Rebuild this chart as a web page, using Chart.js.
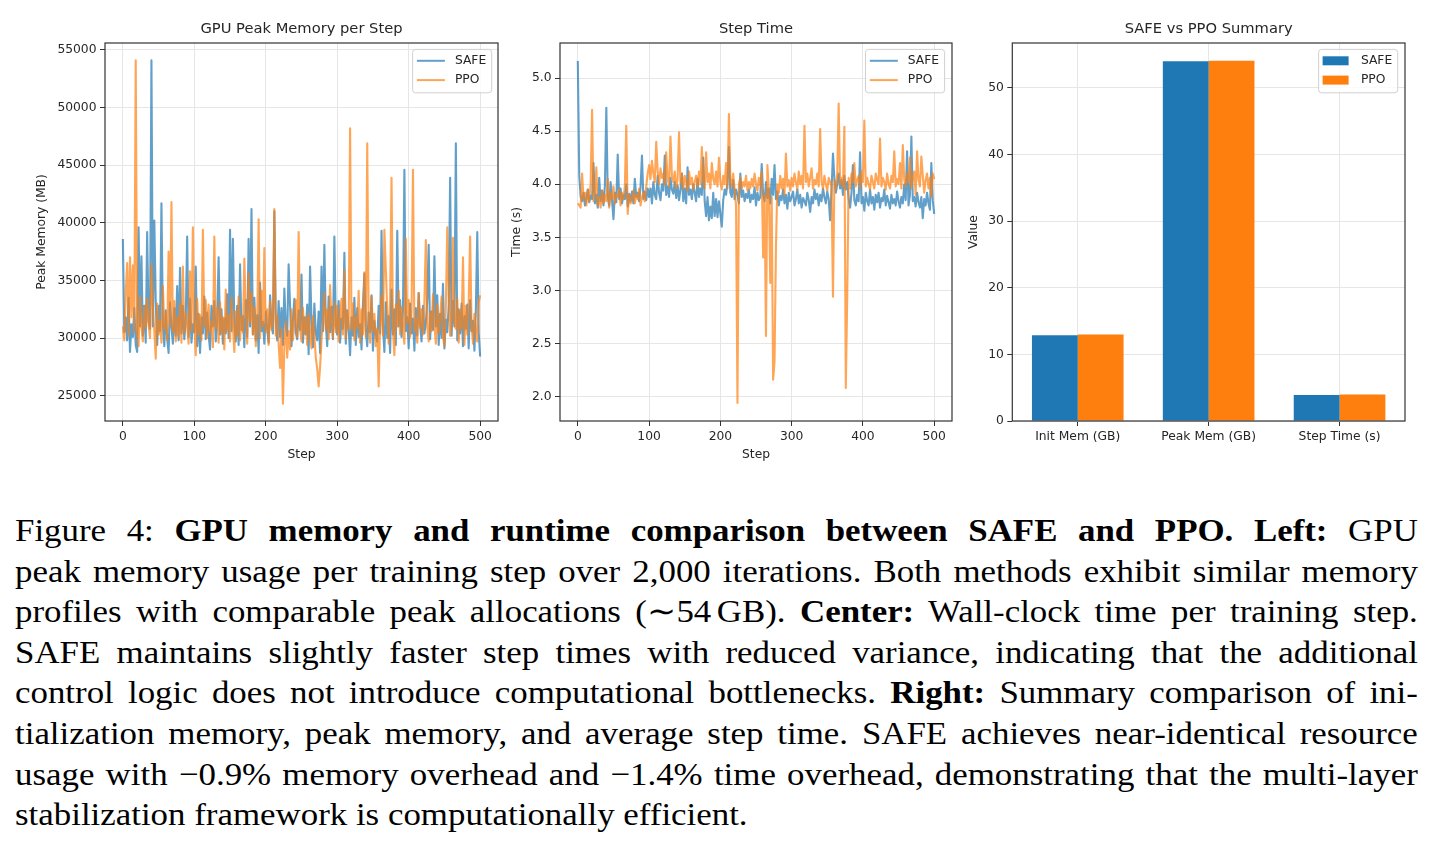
<!DOCTYPE html>
<html>
<head>
<meta charset="utf-8">
<title>SAFE vs PPO resources</title>
<script src="https://cdn.jsdelivr.net/npm/chart.js@4.4.1/dist/chart.umd.min.js"></script>
<style>
  html, body { margin: 0; padding: 0; background: #fff; }
  body { width: 1435px; height: 847px; position: relative; overflow: hidden; }
  canvas { position: absolute; top: 0; }
  #memChart { left: 0; }
  #timeChart { left: 503px; }
  #summaryChart { left: 963px; }
  .caption {
    position: absolute; left: 15px; top: 510px; width: 1287px;
    transform: scaleX(1.09); transform-origin: 0 0;
    font-family: "Liberation Serif", serif; font-size: 32px; line-height: 40.6px; color: #000;
  }
  .caption div { text-align: justify; text-align-last: justify; }
  .caption div.last { text-align-last: left; }
  .caption .ts { display: inline-block; width: 5px; }
</style>
</head>
<body>
<canvas id="memChart" width="503" height="470"></canvas>
<canvas id="timeChart" width="460" height="470"></canvas>
<canvas id="summaryChart" width="472" height="470"></canvas>

<div class="caption">
  <div>Figure 4: <b>GPU memory and runtime comparison between SAFE and PPO. Left:</b> GPU</div>
  <div>peak memory usage per training step over 2,000 iterations. Both methods exhibit similar memory</div>
  <div>profiles with comparable peak allocations (∼54<span class="ts"></span>GB). <b>Center:</b> Wall-clock time per training step.</div>
  <div>SAFE maintains slightly faster step times with reduced variance, indicating that the additional</div>
  <div>control logic does not introduce computational bottlenecks. <b>Right:</b> Summary comparison of ini-</div>
  <div>tialization memory, peak memory, and average step time. SAFE achieves near-identical resource</div>
  <div>usage with −0.9% memory overhead and −1.4% time overhead, demonstrating that the multi-layer</div>
  <div class="last">stabilization framework is computationally efficient.</div>
</div>

<script>
// Series, one value every 2 steps (0..500)
const safeMem = [
  38600, 30500, 31800, 29800, 33500, 28800, 31200, 30100, 32600, 29400,
  28800, 39600, 31000, 37100, 30200, 32800, 29600, 39200, 31400, 30800,
  54100, 31000, 40200, 33200, 29400, 32800, 30600, 41700, 31200, 29300,
  32400, 30000, 28700, 33100, 31000, 29500, 32600, 30200, 34500, 29800,
  36100, 30400, 32800, 29900, 31600, 38800, 30100, 33400, 29600, 31200,
  30500, 36200, 29300, 32100, 28700, 31800, 30400, 33600, 29900, 32200,
  30300, 29000, 32800, 31000, 33200, 29700, 31400, 37000, 30300, 32500,
  29500, 31700, 30400, 33800, 30000, 39400, 30600, 38600, 31300, 29700,
  32800, 29400, 36400, 30700, 31900, 29200, 33300, 30100, 38600, 31000,
  41200, 30300, 33500, 29800, 32000, 28700, 34800, 30600, 31400, 29500,
  32300, 30800, 29600, 33700, 31200, 30400, 41000, 31600, 29800, 33200,
  30100, 32600, 29400, 34300, 31000, 30200, 36400, 32800, 29300, 31600,
  33400, 30500, 29900, 32400, 30700, 35500, 29600, 31800, 30300, 32900,
  28600, 36200, 31400, 29200, 33000, 30400, 29800, 32300, 28700, 36200,
  30600, 38100, 31200, 29300, 33600, 30500, 32700, 29900, 38800, 31100,
  30300, 33200, 29600, 31700, 30800, 37400, 29500, 32400, 30900, 28500,
  31800, 30200, 33500, 29400, 32600, 30100, 31200, 29000, 32900, 35600,
  30700, 29300, 32200, 30500, 33700, 28900, 31500, 30300, 29700, 32800,
  30400, 39300, 31100, 28800, 33100, 30000, 31900, 28700, 34200, 30300,
  32500, 29400, 39300, 31000, 33300, 30100, 32400, 44600, 30600, 31800,
  29100, 33000, 30400, 31700, 28900, 32600, 30200, 33900, 31200, 29700,
  32800, 30400, 31300, 33300, 38100, 29900, 32300, 30700, 37100, 31000,
  33700, 29400, 32100, 30000, 34700, 29100, 31600, 30500, 32700, 43900,
  30200, 33200, 31000, 46900, 29800, 32500, 30400, 33000, 29300, 31900,
  30800, 32900, 29100, 33300, 30600, 31500, 28900, 32400, 39200, 30500,
  28400
];
const ppoMem = [
  31000, 29800, 34000, 36500, 30200, 37000, 31800, 36300, 30500, 54100,
  30400, 29300, 33600, 31000, 29700, 32800, 30900, 33400, 31200, 30000,
  36400, 32800, 30600, 28200, 33000, 30300, 31500, 29600, 34500, 30800,
  32100, 29800, 37500, 31000, 41800, 30500, 33200, 29700, 31800, 30100,
  33000, 29600, 36200, 30400, 32200, 31000, 29500, 35800, 30600, 39600,
  31200, 28500, 33400, 30300, 32000, 29800, 39400, 31000, 33300, 30000,
  32900, 30500, 31400, 29200, 38800, 30900, 32600, 29600, 33100, 30400,
  31800, 29000, 34200, 30600, 32000, 29700, 33500, 31100, 28800, 32300,
  30200, 33600, 29800, 31900, 30500, 36900, 32200, 29500, 35600, 31400,
  33900, 30300, 32700, 29300, 31200, 40300, 30000, 34100, 31000, 37800,
  30500, 32500, 29400, 33200, 30700, 31600, 41200, 30200, 32000, 29500,
  27400, 30800, 24300, 29200, 31400, 28300, 30600, 29000, 32500, 29800,
  31500, 33300, 30100, 39200, 30800, 29700, 32600, 30400, 31800, 29400,
  32100, 30600, 29100, 31900, 30200, 28300, 27300, 25800, 27500, 29800,
  31600, 33900, 30700, 32500, 29900, 34600, 31300, 30000, 33100, 30500,
  32800, 29700, 31900, 33400, 30300, 35900, 29900, 32300, 30800, 48200,
  30700, 33000, 29800, 31800, 30900, 34100, 29600, 32500, 30300, 35700,
  30100, 46900, 31200, 29600, 33600, 30600, 32100, 29300, 30800, 25800,
  31300, 33700, 30200, 39400, 36000, 32400, 29500, 33200, 43900, 30600,
  28500, 32900, 31000, 34100, 30300, 32700, 30700, 29500, 38600, 31300,
  33300, 30100, 32300, 44600, 30600, 31700, 29600, 33900, 30900, 32500,
  30300, 33200, 38500, 31000, 29700, 32200, 30600, 33800, 31100, 29500,
  32900, 30400, 31700, 33600, 30100, 29300, 32600, 39600, 34200, 30200,
  31000, 38700, 31500, 30800, 33400, 29600, 32400, 30800, 37000, 29400,
  32800, 30300, 33200, 38800, 31100, 29500, 32100, 30600, 29700, 33100,
  33700
];
const safeTime = [
  5.16, 4.08, 3.88, 3.84, 3.92, 3.80, 3.86, 3.95, 3.83, 3.89,
  3.86, 4.20, 3.82, 3.90, 3.78, 4.06, 3.84, 3.94, 3.80, 3.99,
  4.72, 3.88, 3.80, 4.02, 3.85, 3.67, 3.92, 3.83, 4.28, 3.86,
  3.96, 3.82, 3.90, 3.86, 4.00, 3.79, 3.91, 3.84, 3.93, 3.82,
  4.05, 3.88, 3.92, 3.84, 3.97, 4.27, 3.86, 3.93, 3.85, 3.96,
  3.88, 3.96, 3.82, 4.02, 3.90, 3.86, 4.08, 3.92, 3.85, 4.00,
  3.94, 4.27, 3.90, 3.98, 3.88, 4.06, 3.95, 3.91, 4.02, 3.87,
  3.99, 3.85, 3.95, 4.10, 3.84, 3.96, 3.82, 4.16, 3.90, 3.95,
  3.86, 4.00, 3.92, 3.84, 4.05, 3.88, 3.96, 3.90, 4.25, 3.84,
  3.70, 3.88, 3.66, 3.79, 3.68, 3.92, 3.70, 3.86, 3.69, 3.84,
  3.72, 3.60, 3.85, 3.95, 3.90, 4.02, 4.35, 3.92, 3.88, 4.04,
  3.86, 3.95, 3.90, 3.82, 4.10, 3.88, 3.94, 3.84, 3.91, 3.87,
  3.95, 3.83, 3.90, 3.86, 3.97, 3.80, 3.92, 3.85, 3.88, 4.19,
  3.90, 3.84, 4.02, 3.87, 3.96, 3.82, 4.05, 3.90, 4.18, 3.86,
  3.93, 3.80, 3.89, 3.85, 3.95, 3.82, 3.90, 3.77, 3.92, 3.84,
  3.88, 3.93, 3.80, 3.86, 3.95, 3.82, 3.90, 3.78, 3.87, 3.84,
  3.80, 3.92, 3.85, 3.74, 3.88, 3.82, 3.95, 3.86, 3.91, 3.80,
  3.90, 3.84, 3.96, 3.88, 3.82, 3.93, 3.86, 3.66, 3.95, 4.29,
  4.05, 3.92, 4.00, 4.10, 3.96, 4.04, 3.90, 4.08, 3.95, 4.02,
  3.86, 3.78, 3.92, 4.18, 3.85, 3.80, 3.90, 3.84, 4.30, 3.82,
  3.88, 3.75, 3.92, 3.84, 3.80, 3.95, 3.82, 3.88, 3.76, 3.90,
  3.83, 3.92, 3.78, 3.87, 3.84, 3.95, 3.80, 3.89, 3.83, 3.77,
  3.90, 3.82, 3.86, 3.80, 3.93, 3.84, 3.78, 3.88, 3.82, 4.00,
  3.85, 4.31, 3.80, 3.90, 4.45, 3.84, 3.88, 3.79, 3.92, 3.83,
  3.78, 3.88, 3.68, 3.86, 3.80, 3.92, 3.82, 3.76, 4.20, 3.85,
  3.72
];
const ppoTime = [
  3.82, 3.80, 3.78, 4.10, 3.86, 3.92, 3.80, 3.95, 3.84, 4.00,
  4.70, 3.84, 3.92, 4.16, 3.80, 3.88, 3.78, 3.94, 3.82, 3.90,
  3.84, 4.05, 3.78, 3.92, 3.86, 3.98, 3.82, 3.90, 3.88, 3.95,
  3.80, 3.92, 3.86, 3.98, 4.55, 3.72, 3.90, 3.82, 3.86, 3.94,
  3.82, 3.90, 3.86, 3.96, 3.80, 3.88, 3.92, 3.84, 3.98, 4.10,
  4.18, 4.05, 4.22, 4.10, 4.02, 4.40, 4.12, 4.00, 4.15, 4.06,
  4.10, 4.00, 4.30, 4.05, 3.98, 4.45, 4.08, 4.02, 4.12, 3.96,
  4.05, 4.49, 4.00, 4.10, 3.96, 4.08, 4.02, 3.94, 4.12, 4.00,
  4.06, 3.95, 4.02, 4.08, 3.98, 4.12, 4.00, 4.35, 4.04, 3.96,
  4.30, 4.02, 4.10, 3.96, 4.20, 4.05, 4.00, 4.12, 3.98, 4.25,
  4.02, 3.95, 4.08, 4.00, 4.20, 3.96, 4.66, 4.05, 3.98, 4.10,
  3.95, 3.80, 1.94, 4.00, 4.06, 3.96, 4.02, 3.98, 4.08, 3.94,
  4.02, 3.96, 4.05, 3.98, 4.10, 4.00, 3.94, 4.06, 3.99, 4.12,
  3.31, 3.90, 2.57, 4.18, 3.96, 3.07, 3.88, 2.16, 2.33, 3.41,
  4.00, 3.92, 4.08, 3.96, 4.05, 3.90, 4.29, 3.98, 4.04, 3.94,
  4.06, 3.98, 4.10, 4.02, 3.95, 4.12, 4.00, 4.08, 3.96, 4.55,
  4.02, 4.10, 3.98, 4.06, 4.15, 3.96, 4.04, 4.00, 4.10, 3.98,
  4.52, 4.02, 3.96, 4.08, 4.00, 3.94, 4.06, 4.02, 3.98, 2.94,
  4.04, 3.96, 4.10, 4.76, 4.00, 4.06, 3.98, 4.54, 2.08, 2.94,
  4.06, 3.96, 4.10, 4.02, 4.20, 3.98, 4.04, 4.08, 3.96, 4.12,
  4.02, 4.60, 3.98, 4.06, 4.00, 3.95, 4.08, 4.02, 3.96, 4.10,
  4.04, 4.00, 4.43, 3.98, 4.06, 4.02, 3.95, 4.10, 4.00, 3.96,
  4.08, 4.02, 4.31, 3.98, 4.05, 4.00, 4.20, 3.96, 4.37, 4.04,
  3.98, 4.10, 4.02, 4.25, 3.96, 4.06, 4.12, 3.90, 4.31, 4.04,
  3.98, 4.26, 4.08, 3.92, 4.04, 4.10, 3.96, 4.06, 3.88, 4.10,
  4.05
];
const steps = safeMem.map((_, i) => i * 2);

// Summary bars
const summaryLabels = ["Init Mem (GB)", "Peak Mem (GB)", "Step Time (s)"];
const summarySafe = [12.85, 53.95, 3.90];
const summaryPpo = [12.97, 54.02, 3.96];

// Tick values
const stepTicks = [0, 100, 200, 300, 400, 500];
const memTicks = [25000, 30000, 35000, 40000, 45000, 50000, 55000];
const timeTicks = [2.0, 2.5, 3.0, 3.5, 4.0, 4.5, 5.0];
const valueTicks = [0, 10, 20, 30, 40, 50];

const FONT = "'DejaVu Sans', sans-serif";
const INK = "#262626";
const GRID = "#e6e6e6";
const SAFE_LINE = "rgba(31, 119, 180, 0.7)";
const PPO_LINE = "rgba(255, 127, 14, 0.7)";
const SAFE_BAR = "#1f77b4";
const PPO_BAR = "#ff7f0e";

Chart.defaults.font.family = FONT;
Chart.defaults.font.size = 12.3;
Chart.defaults.color = INK;

const fixTicks = (values) => (scale) => {
  scale.ticks = values.map((v) => ({ value: v }));
};

// matplotlib-like axes frame
const frame = {
  id: "frame",
  afterDatasetsDraw(chart) {
    const { ctx, chartArea: a } = chart;
    ctx.save();
    ctx.strokeStyle = "#333";
    ctx.lineWidth = 1.2;
    ctx.strokeRect(a.left, a.top, a.right - a.left, a.bottom - a.top);
    ctx.restore();
  },
};

// title centred over the plot area
const panelTitle = {
  id: "panelTitle",
  afterDraw(chart, args, opts) {
    const { ctx, chartArea: a } = chart;
    ctx.save();
    ctx.font = `14.7px ${FONT}`;
    ctx.fillStyle = INK;
    ctx.textAlign = "center";
    ctx.textBaseline = "middle";
    ctx.fillText(opts.text, (a.left + a.right) / 2, a.top - 13.5);
    ctx.restore();
  },
};

// legend inside the upper right corner
const cornerLegend = {
  id: "cornerLegend",
  afterDraw(chart, args, opts) {
    const { ctx, chartArea: a } = chart;
    const items = chart.data.datasets.map((d) => ({
      label: d.label,
      color: opts.kind === "box" ? d.backgroundColor : d.borderColor,
    }));
    ctx.save();
    ctx.font = `12.3px ${FONT}`;
    const textW = Math.max(...items.map((it) => ctx.measureText(it.label).width));
    const w = 42.3 + textW + 5.5;
    const h = 43.4;
    const x = a.right - opts.inset - w;
    const y = a.top + 6.4;
    ctx.beginPath();
    ctx.roundRect(x, y, w, h, 3);
    ctx.fillStyle = "rgba(255,255,255,0.8)";
    ctx.fill();
    ctx.strokeStyle = "#d0d0d0";
    ctx.lineWidth = 1;
    ctx.stroke();
    items.forEach((it, i) => {
      const cy = y + 11.4 + i * 19.3;
      if (opts.kind === "box") {
        ctx.fillStyle = it.color;
        ctx.fillRect(x + 4, cy - 4.5, 26, 9);
      } else {
        ctx.strokeStyle = it.color;
        ctx.lineWidth = 2;
        ctx.beginPath();
        ctx.moveTo(x + 4.3, cy);
        ctx.lineTo(x + 32.3, cy);
        ctx.stroke();
      }
      ctx.fillStyle = INK;
      ctx.textAlign = "left";
      ctx.textBaseline = "middle";
      ctx.fillText(it.label, x + 42.3, cy);
    });
    ctx.restore();
  },
};

function gridOpts(extra) {
  return Object.assign(
    { color: GRID, lineWidth: 1, drawTicks: true, tickLength: 5, tickColor: "#333" },
    extra || {}
  );
}

function lineChart(id, cfg) {
  const toPts = (arr) => arr.map((v, i) => ({ x: steps[i], y: v }));
  return new Chart(document.getElementById(id), {
    type: "line",
    data: {
      datasets: [
        { label: "SAFE", data: toPts(cfg.safe), borderColor: SAFE_LINE, order: 2 },
        { label: "PPO", data: toPts(cfg.ppo), borderColor: PPO_LINE, order: 1 },
      ],
    },
    options: {
      responsive: false,
      animation: false,
      devicePixelRatio: 1,
      events: [],
      layout: { padding: { left: 0, right: cfg.padRight, top: 43, bottom: 4 } },
      elements: {
        line: { borderWidth: 2.1, tension: 0, borderJoinStyle: "round", fill: false },
        point: { radius: 0 },
      },
      plugins: {
        legend: { display: false },
        tooltip: { enabled: false },
        panelTitle: { text: cfg.title },
        cornerLegend: { kind: "line", inset: cfg.legendInset },
      },
      scales: {
        x: {
          type: "linear",
          min: -25,
          max: 525,
          grid: gridOpts(),
          border: { display: false },
          ticks: { padding: 3, maxRotation: 0 },
          afterBuildTicks: fixTicks(stepTicks),
          title: { display: true, text: "Step", padding: { top: 0, bottom: 3.8 } },
          afterFit: (s) => { s.height = 45; },
        },
        y: {
          min: cfg.yMin,
          max: cfg.yMax,
          grid: gridOpts(),
          border: { display: false },
          ticks: { padding: 3.5, callback: cfg.fmt },
          afterBuildTicks: fixTicks(cfg.yTicks),
          title: { display: true, text: cfg.yTitle, padding: { top: cfg.yTitlePad, bottom: 0 } },
          afterFit: (s) => { s.width = cfg.yWidth; },
        },
      },
    },
    plugins: [frame, panelTitle, cornerLegend],
  });
}

lineChart("memChart", {
  safe: safeMem,
  ppo: ppoMem,
  title: "GPU Peak Memory per Step",
  yTitle: "Peak Memory (MB)",
  yMin: 22800,
  yMax: 55600,
  yTicks: memTicks,
  fmt: (v) => String(v),
  yWidth: 105,
  yTitlePad: 34.6,
  padRight: 5,
  legendInset: 6.3,
});

lineChart("timeChart", {
  safe: safeTime,
  ppo: ppoTime,
  title: "Step Time",
  yTitle: "Time (s)",
  yMin: 1.77,
  yMax: 5.33,
  yTicks: timeTicks,
  fmt: (v) => v.toFixed(1),
  yWidth: 57,
  yTitlePad: 6.3,
  padRight: 11,
  legendInset: 7.4,
});

new Chart(document.getElementById("summaryChart"), {
  type: "bar",
  data: {
    labels: summaryLabels,
    datasets: [
      { label: "SAFE", data: summarySafe, backgroundColor: SAFE_BAR },
      { label: "PPO", data: summaryPpo, backgroundColor: PPO_BAR },
    ],
  },
  options: {
    responsive: false,
    animation: false,
    devicePixelRatio: 1,
    events: [],
    layout: { padding: { left: 0, right: 30, top: 43, bottom: 4 } },
    datasets: { bar: { barPercentage: 1.0, categoryPercentage: 0.7, borderWidth: 0 } },
    plugins: {
      legend: { display: false },
      tooltip: { enabled: false },
      panelTitle: { text: "SAFE vs PPO Summary" },
      cornerLegend: { kind: "box", inset: 7.3 },
    },
    scales: {
      x: {
        grid: gridOpts({ offset: false }),
        border: { display: false },
        ticks: { padding: 3, maxRotation: 0 },
        afterFit: (s) => { s.height = 45; },
      },
      y: {
        min: 0,
        max: 56.7,
        grid: gridOpts(),
        border: { display: false },
        ticks: { padding: 3.5 },
        afterBuildTicks: fixTicks(valueTicks),
        title: { display: true, text: "Value", padding: { top: 3.6, bottom: 0 } },
        afterFit: (s) => { s.width = 49.3; },
      },
    },
  },
  plugins: [frame, panelTitle, cornerLegend],
});
</script>
</body>
</html>
